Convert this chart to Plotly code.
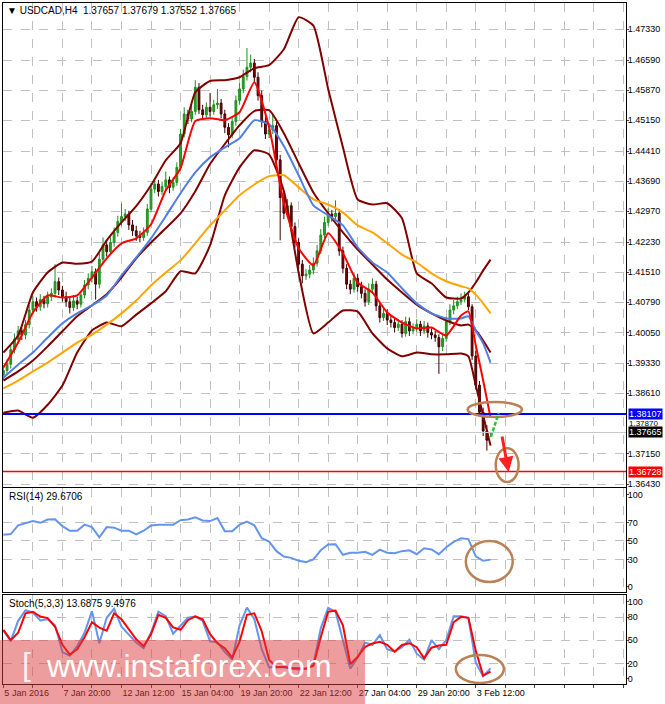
import plotly.graph_objects as go

# USDCAD H4, bars counted from 5 Jan 2016 04:00 (x = bar number)
bar_open = [
    1.3905, 1.3915, 1.3930, 1.3965, 1.3990, 1.4010, 1.4000, 1.4025, 1.4060, 1.4080,
    1.4068, 1.4085, 1.4075, 1.4092, 1.4100, 1.4128, 1.4108, 1.4092, 1.4080, 1.4066,
    1.4082, 1.4074, 1.4096, 1.4120, 1.4136, 1.4152, 1.4122, 1.4182, 1.4216, 1.4200,
    1.4222, 1.4246, 1.4272, 1.4284, 1.4290, 1.4264, 1.4250, 1.4238, 1.4234, 1.4246,
    1.4302, 1.4350, 1.4362, 1.4344, 1.4356, 1.4372, 1.4354, 1.4366, 1.4402, 1.4482,
    1.4530, 1.4518, 1.4536, 1.4594, 1.4540, 1.4528, 1.4546, 1.4536, 1.4552, 1.4556,
    1.4530, 1.4498, 1.4480, 1.4512, 1.4562, 1.4590, 1.4620, 1.4642, 1.4652, 1.4618,
    1.4574, 1.4512, 1.4482, 1.4492, 1.4502, 1.4420, 1.4330, 1.4292, 1.4310, 1.4260,
    1.4222, 1.4170, 1.4142, 1.4146, 1.4156, 1.4172, 1.4202, 1.4240, 1.4270, 1.4290,
    1.4284, 1.4292, 1.4202, 1.4160, 1.4122, 1.4110, 1.4136, 1.4116, 1.4100, 1.4080,
    1.4110, 1.4122, 1.4070, 1.4042, 1.4052, 1.4036, 1.4030, 1.4018, 1.4026, 1.4004,
    1.4032, 1.4010, 1.4016, 1.4026, 1.4010, 1.4022, 1.4006, 1.4000, 1.3994, 1.3972,
    1.3992, 1.4032, 1.4060, 1.4070, 1.4080, 1.4086, 1.4092, 1.4068, 1.3950, 1.3880,
    1.3815, 1.3770, 1.37657]
bar_high = [
    1.3928, 1.3942, 1.3975, 1.4004, 1.4022, 1.4018, 1.4036, 1.4072, 1.4094, 1.4090,
    1.4098, 1.4094, 1.4104, 1.4112, 1.4170, 1.4138, 1.4118, 1.4104, 1.4090, 1.4096,
    1.4092, 1.4106, 1.4132, 1.4148, 1.4166, 1.4160, 1.4196, 1.4234, 1.4228, 1.4236,
    1.4258, 1.4286, 1.4316, 1.4302, 1.4298, 1.4276, 1.4262, 1.4250, 1.4258, 1.4314,
    1.4364, 1.4376, 1.4372, 1.4368, 1.4392, 1.4380, 1.4378, 1.4414, 1.4494, 1.4546,
    1.4540, 1.4550, 1.4611, 1.4604, 1.4552, 1.4558, 1.4580, 1.4564, 1.4590, 1.4566,
    1.4540, 1.4508, 1.4524, 1.4574, 1.4604, 1.4636, 1.4688, 1.4672, 1.4662, 1.4630,
    1.4586, 1.4524, 1.4506, 1.4530, 1.4512, 1.4432, 1.4342, 1.4326, 1.4318, 1.4270,
    1.4232, 1.4180, 1.4158, 1.4168, 1.4186, 1.4216, 1.4254, 1.4284, 1.4304, 1.4300,
    1.4323, 1.4302, 1.4212, 1.4170, 1.4132, 1.4150, 1.4146, 1.4128, 1.4110, 1.4124,
    1.4136, 1.4130, 1.4080, 1.4064, 1.4062, 1.4048, 1.4040, 1.4038, 1.4036, 1.4044,
    1.4042, 1.4028, 1.4038, 1.4034, 1.4034, 1.4030, 1.4016, 1.4010, 1.4002, 1.4004,
    1.4044, 1.4074, 1.4084, 1.4092, 1.4100, 1.4104, 1.4100, 1.4074, 1.3962, 1.3890,
    1.3826, 1.3784, 1.37679]
bar_low = [
    1.3894, 1.3904, 1.3920, 1.3956, 1.3980, 1.3988, 1.3990, 1.4016, 1.4050, 1.4056,
    1.4058, 1.4064, 1.4066, 1.4082, 1.4090, 1.4096, 1.4080, 1.4068, 1.4052, 1.4058,
    1.4062, 1.4066, 1.4088, 1.4110, 1.4126, 1.4085, 1.4112, 1.4174, 1.4188, 1.4192,
    1.4212, 1.4236, 1.4262, 1.4274, 1.4252, 1.4238, 1.4226, 1.4222, 1.4226, 1.4238,
    1.4294, 1.4340, 1.4332, 1.4336, 1.4346, 1.4340, 1.4346, 1.4358, 1.4394, 1.4474,
    1.4506, 1.4510, 1.4528, 1.4530, 1.4516, 1.4520, 1.4524, 1.4528, 1.4542, 1.4520,
    1.4484, 1.4450, 1.4472, 1.4502, 1.4552, 1.4580, 1.4610, 1.4630, 1.4606, 1.4562,
    1.4498, 1.4470, 1.4472, 1.4482, 1.4408, 1.4227, 1.4278, 1.4284, 1.4248, 1.4210,
    1.4158, 1.4124, 1.4132, 1.4136, 1.4146, 1.4164, 1.4194, 1.4232, 1.4262, 1.4272,
    1.4276, 1.4190, 1.4148, 1.4110, 1.4098, 1.4102, 1.4104, 1.4088, 1.4068, 1.4072,
    1.4100, 1.4058, 1.4030, 1.4034, 1.4024, 1.4018, 1.4006, 1.4010, 1.3994, 1.3996,
    1.3998, 1.4002, 1.4008, 1.3998, 1.4002, 1.3994, 1.3990, 1.3984, 1.3907, 1.3962,
    1.3984, 1.4024, 1.4050, 1.4062, 1.4072, 1.4078, 1.4060, 1.3940, 1.3870, 1.3805,
    1.3758, 1.3723, 1.37552]
bar_close = [
    1.3915, 1.3930, 1.3965, 1.3990, 1.4010, 1.4000, 1.4025, 1.4060, 1.4080, 1.4068,
    1.4085, 1.4075, 1.4092, 1.4100, 1.4128, 1.4108, 1.4092, 1.4080, 1.4066, 1.4082,
    1.4074, 1.4096, 1.4120, 1.4136, 1.4152, 1.4122, 1.4182, 1.4216, 1.4200, 1.4222,
    1.4246, 1.4272, 1.4284, 1.4290, 1.4264, 1.4250, 1.4238, 1.4234, 1.4246, 1.4302,
    1.4350, 1.4362, 1.4344, 1.4356, 1.4372, 1.4354, 1.4366, 1.4402, 1.4482, 1.4530,
    1.4518, 1.4536, 1.4594, 1.4540, 1.4528, 1.4546, 1.4536, 1.4552, 1.4556, 1.4530,
    1.4498, 1.4480, 1.4512, 1.4562, 1.4590, 1.4620, 1.4642, 1.4652, 1.4618, 1.4574,
    1.4512, 1.4482, 1.4492, 1.4502, 1.4420, 1.4330, 1.4292, 1.4310, 1.4260, 1.4222,
    1.4170, 1.4142, 1.4146, 1.4156, 1.4172, 1.4202, 1.4240, 1.4270, 1.4290, 1.4284,
    1.4292, 1.4202, 1.4160, 1.4122, 1.4110, 1.4136, 1.4116, 1.4100, 1.4080, 1.4110,
    1.4122, 1.4070, 1.4042, 1.4052, 1.4036, 1.4030, 1.4018, 1.4026, 1.4004, 1.4032,
    1.4010, 1.4016, 1.4026, 1.4010, 1.4022, 1.4006, 1.4000, 1.3994, 1.3972, 1.3992,
    1.4032, 1.4060, 1.4070, 1.4080, 1.4086, 1.4092, 1.4068, 1.3950, 1.3880, 1.3815,
    1.3770, 1.3748, 1.37665]
bar_idx = list(range(len(bar_close)))

# indicator lines, read at every 4th bar (then every 2nd at the end)
ma_idx = list(range(0, 125, 4)) + [126, 128, 130, 132]
ma_fast = [1.3922, 1.3982, 1.4054, 1.4095, 1.4090, 1.4095, 1.4138, 1.4184, 1.4220, 1.4232,
           1.4265, 1.4347, 1.4400, 1.4513, 1.4520, 1.4515, 1.4534, 1.4606, 1.4498, 1.4316,
           1.4208, 1.4167, 1.4244, 1.4196, 1.4126, 1.4102, 1.4054, 1.4030, 1.4016, 1.4018,
           1.3999, 1.4047, 1.4057, 1.3975, 1.3891, 1.3802]
ma_blue = [1.3898, 1.3929, 1.3958, 1.3994, 1.4028, 1.4052, 1.4071, 1.4095, 1.4143, 1.4186,
           1.4232, 1.4285, 1.4340, 1.4390, 1.4426, 1.4450, 1.4472, 1.4515, 1.4505, 1.4453,
           1.4383, 1.4311, 1.4287, 1.4263, 1.4210, 1.4174, 1.4150, 1.4112, 1.4076, 1.4052,
           1.4040, 1.4040, 1.4045, 1.4011, 1.3980, 1.3934]
ma_orange = [1.3872, 1.3891, 1.3913, 1.3934, 1.3958, 1.3982, 1.4001, 1.4025, 1.4052, 1.4083,
             1.4119, 1.4150, 1.4179, 1.4220, 1.4263, 1.4299, 1.4335, 1.4361, 1.4381, 1.4383,
             1.4354, 1.4325, 1.4313, 1.4294, 1.4263, 1.4246, 1.4220, 1.4193, 1.4174, 1.4148,
             1.4129, 1.4117, 1.4112, 1.4097, 1.4076, 1.4052]
bb_upper = [1.3958, 1.3999, 1.4102, 1.4150, 1.4174, 1.4171, 1.4176, 1.4227, 1.4270, 1.4309,
            1.4359, 1.4419, 1.4460, 1.4582, 1.4609, 1.4611, 1.4618, 1.4640, 1.4647, 1.4685,
            1.4762, 1.4742, 1.4590, 1.4450, 1.4325, 1.4313, 1.4316, 1.4280, 1.4148, 1.4124,
            1.4090, 1.4088, 1.4102, 1.4126, 1.4155, 1.4181]
bb_middle = [1.3891, 1.3913, 1.3939, 1.3973, 1.4009, 1.4045, 1.4071, 1.4098, 1.4138, 1.4184,
             1.4222, 1.4256, 1.4292, 1.4345, 1.4410, 1.4458, 1.4503, 1.4537, 1.4539, 1.4484,
             1.4412, 1.4342, 1.4292, 1.4246, 1.4205, 1.4169, 1.4133, 1.4102, 1.4073, 1.4052,
             1.4035, 1.4023, 1.4025, 1.4011, 1.3987, 1.3958]
bb_lower = [1.3814, 1.3819, 1.3802, 1.3833, 1.3879, 1.3958, 1.4011, 1.4030, 1.4021, 1.4049,
            1.4076, 1.4105, 1.4153, 1.4148, 1.4215, 1.4335, 1.4402, 1.4443, 1.4433, 1.4345,
            1.4150, 1.4004, 1.4030, 1.4059, 1.4056, 1.4004, 1.3968, 1.3949, 1.3958, 1.3954,
            1.3954, 1.3956, 1.3949, 1.3879, 1.3807, 1.3735]

# oscillators, read at every 2nd bar
osc_idx = list(range(0, 133, 2))
rsi = [56.6, 57.5, 67.0, 69.3, 71.6, 69.7, 73.3, 73.6, 66.1, 61.1,
       61.1, 67.7, 65.1, 53.9, 65.1, 64.4, 61.1, 61.1, 57.2, 61.1,
       66.7, 67.7, 67.7, 67.7, 72.6, 73.3, 75.6, 72.3, 71.6, 74.9,
       60.5, 60.5, 67.7, 71.0, 67.0, 53.0, 49.3, 38.9, 33.0, 31.6,
       28.4, 27.0, 30.0, 39.8, 46.1, 46.4, 34.9, 37.2, 37.2, 38.2,
       34.9, 40.5, 37.2, 36.6, 38.9, 39.8, 35.6, 42.1, 40.8, 35.6,
       43.1, 49.0, 53.0, 52.0, 33.3, 28.4, 29.7]
stoch_k = [62.6, 49.0, 75.3, 88.9, 85.8, 75.7, 77.3, 69.5, 34.7, 30.0,
           42.4, 59.8, 87.8, 46.3, 79.2, 90.9, 67.6, 56.7, 47.1, 39.7,
           59.8, 87.0, 81.2, 58.7, 69.5, 79.2, 80.8, 75.3, 48.6, 47.4,
           34.7, 25.3, 69.5, 92.4, 77.3, 38.5, 15.3, 15.3, 15.3, 13.3,
           12.2, 13.3, 19.1, 65.7, 92.0, 87.0, 50.2, 13.3, 27.7, 47.1,
           44.3, 56.7, 38.5, 35.4, 41.2, 50.9, 32.7, 25.0, 50.2, 38.5,
           50.2, 81.2, 81.2, 79.2, 21.1, 3.6, 13.7]
stoch_d = [63.7, 50.2, 59.8, 85.0, 87.0, 80.8, 78.8, 67.6, 44.3, 31.5,
           38.5, 54.0, 73.4, 66.4, 62.6, 85.0, 77.3, 63.7, 51.3, 42.4,
           57.9, 83.1, 79.2, 66.8, 63.7, 76.1, 81.2, 77.3, 57.9, 46.3,
           39.7, 27.7, 48.2, 83.1, 85.0, 61.8, 25.0, 15.3, 15.7, 14.1,
           13.3, 13.3, 17.2, 54.0, 87.0, 88.5, 69.5, 19.1, 28.8, 41.6,
           45.9, 48.2, 44.3, 35.4, 44.0, 46.3, 41.2, 26.9, 40.5, 43.2,
           44.3, 73.4, 80.4, 79.2, 36.6, 4.4, 9.5]

# axes
price_ticks = [1.47330, 1.46590, 1.45870, 1.45150, 1.44410, 1.43690, 1.42970, 1.42230,
               1.41510, 1.40790, 1.40050, 1.39330, 1.38610, 1.37150, 1.36430]
time_ticks = list(range(0, 169, 8))
time_labels = ['5 Jan 2016', '', '7 Jan 20:00', '', '12 Jan 12:00', '', '15 Jan 04:00', '',
               '19 Jan 20:00', '', '22 Jan 12:00', '', '27 Jan 04:00', '', '29 Jan 20:00', '',
               '3 Feb 12:00', '', '', '', '', '']

# levels on the price scale
support_level = 1.38107
target_level = 1.36728
last_price = 1.37665
extra_price_label = 1.37870

# hand drawn marks (bar number, price / value)
ring_main = [(125.8, 1.38396), (140.5, 1.38037)]
ring_target = [(133.4, 1.37290), (139.6, 1.36479)]
ring_rsi = [(125.3, 50.0), (138.0, 5.4)]
ring_stoch = [(122.6, 31.0), (135.6, -5.2)]
green_arrow = [(132.1, 1.37557), (134.2, 1.38133)]
red_arrow = [(134.8, 1.37725), (136.9, 1.36719)]

FONT = 'Liberation Sans, Arial, sans-serif'
GRID = '#c0c0c0'
X_RANGE = [-0.1, 168.7]

fig = go.Figure()

fig.add_trace(go.Candlestick(
    x=bar_idx, open=bar_open, high=bar_high, low=bar_low, close=bar_close,
    increasing=dict(line=dict(color='#1f8f1f', width=1), fillcolor='#2ca02c'),
    decreasing=dict(line=dict(color='#3a0000', width=1), fillcolor='#8b0000'),
    whiskerwidth=0, showlegend=False, xaxis='x', yaxis='y'))

for vals, col in [(bb_upper, '#800000'), (bb_middle, '#800000'), (bb_lower, '#800000'),
                  (ma_orange, '#ffa500'), (ma_blue, '#4f7fe6'), (ma_fast, '#ff0000')]:
    fig.add_trace(go.Scatter(x=ma_idx, y=vals, mode='lines',
                             line=dict(color=col, width=2, shape='spline', smoothing=0.5),
                             showlegend=False, xaxis='x', yaxis='y'))

fig.add_trace(go.Scatter(x=osc_idx, y=rsi, mode='lines', line=dict(color='#6495ed', width=2),
                         showlegend=False, xaxis='x2', yaxis='y2'))
fig.add_trace(go.Scatter(x=osc_idx, y=stoch_k, mode='lines', line=dict(color='#6495ed', width=2),
                         showlegend=False, xaxis='x3', yaxis='y3'))
fig.add_trace(go.Scatter(x=osc_idx, y=stoch_d, mode='lines', line=dict(color='#ff0000', width=2),
                         showlegend=False, xaxis='x3', yaxis='y3'))

shapes = []
# horizontal levels
shapes.append(dict(type='line', xref='x domain', yref='y', x0=0, x1=1, y0=last_price, y1=last_price,
                   line=dict(color='#c8c8c8', width=1)))
shapes.append(dict(type='line', xref='x domain', yref='y', x0=0, x1=1, y0=support_level, y1=support_level,
                   line=dict(color='#0000ff', width=2)))
shapes.append(dict(type='line', xref='x domain', yref='y', x0=0, x1=1, y0=target_level, y1=target_level,
                   line=dict(color='#ff0000', width=1.5)))
# rings
for ring, yr, xr in [(ring_main, 'y', 'x'), (ring_target, 'y', 'x'),
                     (ring_rsi, 'y2', 'x2'), (ring_stoch, 'y3', 'x3')]:
    shapes.append(dict(type='circle', xref=xr, yref=yr, x0=ring[0][0], x1=ring[1][0],
                       y0=ring[0][1], y1=ring[1][1], line=dict(color='#bc8055', width=2.5)))
# green dashed arrow shaft
shapes.append(dict(type='line', xref='x', yref='y', x0=green_arrow[0][0], y0=green_arrow[0][1],
                   x1=green_arrow[1][0], y1=green_arrow[1][1],
                   line=dict(color='#2fbf2f', width=2.5, dash='4px,2px')))
# watermark band
shapes.append(dict(type='rect', xref='paper', yref='paper', x0=-0.01, x1=0.581, y0=-0.03, y1=0.0646,
                   fillcolor='rgba(220,60,60,0.5)', line=dict(width=0), layer='above'))

annotations = [
    dict(text='\u25bc USDCAD,H4\u00a0\u00a01.37657 1.37679 1.37552 1.37665', xref='paper', yref='paper',
         x=0.003, y=0.9895, xanchor='left', yanchor='middle', showarrow=False,
         font=dict(family=FONT, size=10, color='black')),
    dict(text='RSI(14) 29.6706', xref='paper', yref='paper', x=0.006, y=0.2746,
         xanchor='left', yanchor='middle', showarrow=False, font=dict(family=FONT, size=10, color='black')),
    dict(text='Stoch(5,3,3) 13.6875 9.4976', xref='paper', yref='paper', x=0.006, y=0.1175,
         xanchor='left', yanchor='middle', showarrow=False, font=dict(family=FONT, size=10, color='black')),
    dict(text='www.instaforex.com', xref='paper', yref='paper', x=0.2986, y=0.027,
         xanchor='center', yanchor='middle', showarrow=False,
         font=dict(family=FONT, size=32, color='white')),
    dict(text='[', xref='paper', yref='paper', x=0.038, y=0.03, xanchor='center', yanchor='middle',
         showarrow=False, font=dict(family=FONT, size=32, color='rgba(255,255,255,0.85)')),
    dict(text=' ', x=green_arrow[1][0], y=green_arrow[1][1], ax=green_arrow[1][0] - 0.6,
         ay=green_arrow[1][1] - 0.0018, xref='x', yref='y', axref='x', ayref='y',
         showarrow=True, arrowhead=2, arrowsize=1, arrowwidth=2.5, arrowcolor='#2fbf2f'),
    dict(text=' ', x=red_arrow[1][0], y=red_arrow[1][1], ax=red_arrow[0][0], ay=red_arrow[0][1],
         xref='x', yref='y', axref='x', ayref='y',
         showarrow=True, arrowhead=2, arrowsize=1, arrowwidth=3, arrowcolor='#ff2020'),
]
# price labels on the scale (they sit close together, as in the terminal)
for val, bg, fg, fsize in [(support_level, '#0000ff', 'white', 9), (extra_price_label, None, 'black', 8),
                           (last_price, '#000000', 'white', 9), (target_level, '#ff0000', 'white', 9)]:
    a = dict(text='%.5f' % val, xref='paper', yref='y', x=1.003, y=val, xanchor='left', yanchor='middle',
             showarrow=False, font=dict(family=FONT, size=fsize, color=fg), borderpad=0)
    if bg:
        a['bgcolor'] = bg
    annotations.append(a)

xcommon = dict(range=X_RANGE, showline=True, mirror=True, linecolor='black', linewidth=1,
               showgrid=True, gridcolor=GRID, griddash='dash', gridwidth=1, zeroline=False,
               fixedrange=True)
ycommon = dict(side='right', ticks='outside', ticklen=2, ticklabelstandoff=-3,
               showline=True, mirror=True, linecolor='black', zeroline=False, fixedrange=True,
               tickfont=dict(family=FONT, size=9))

fig.update_layout(
    width=665, height=704,
    margin=dict(l=3, r=39, t=3, b=20),
    plot_bgcolor='white', paper_bgcolor='white',
    hovermode=False, showlegend=False,
    font=dict(family=FONT, size=9, color='black'),
    shapes=shapes, annotations=annotations,
    xaxis=dict(domain=[0, 1], anchor='y', tickmode='array', tickvals=time_ticks,
               showticklabels=False, ticks='', rangeslider=dict(visible=False), **xcommon),
    xaxis2=dict(domain=[0, 1], anchor='y2', tickmode='array', tickvals=time_ticks,
                showticklabels=False, ticks='', **xcommon),
    xaxis3=dict(domain=[0, 1], anchor='y3', tickmode='array', tickvals=time_ticks, ticktext=time_labels,
                ticks='outside', ticklen=3, ticklabelposition='outside right', tickangle=0,
                tickfont=dict(family=FONT, size=9), **xcommon),
    yaxis=dict(domain=[0.2900, 1], anchor='x', range=[1.3637, 1.4796],
               tickmode='array', tickvals=price_ticks, tickformat='.5f',
               showgrid=True, gridcolor=GRID, griddash='dash', **ycommon),
    yaxis2=dict(domain=[0.1344, 0.2871], anchor='x2', range=[-6, 107],
                tickmode='array', tickvals=[0, 30, 50, 70, 100], showgrid=False,
                minor=dict(tickmode='array', tickvals=[30, 50, 70], showgrid=True, gridcolor=GRID,
                           griddash='dash', ticks=''),
                **ycommon),
    yaxis3=dict(domain=[0, 0.1307], anchor='x3', range=[-6.5, 108.7],
                tickmode='array', tickvals=[0, 20, 50, 80, 100], showgrid=False,
                minor=dict(tickmode='array', tickvals=[20, 50, 80], showgrid=True, gridcolor=GRID,
                           griddash='dash', ticks=''),
                **ycommon),
)

# the page's default body margin would push the 665x704 figure off the window
fig.write_html("out.html", config={'displayModeBar': False},
               post_script="document.body.style.margin='0';")
